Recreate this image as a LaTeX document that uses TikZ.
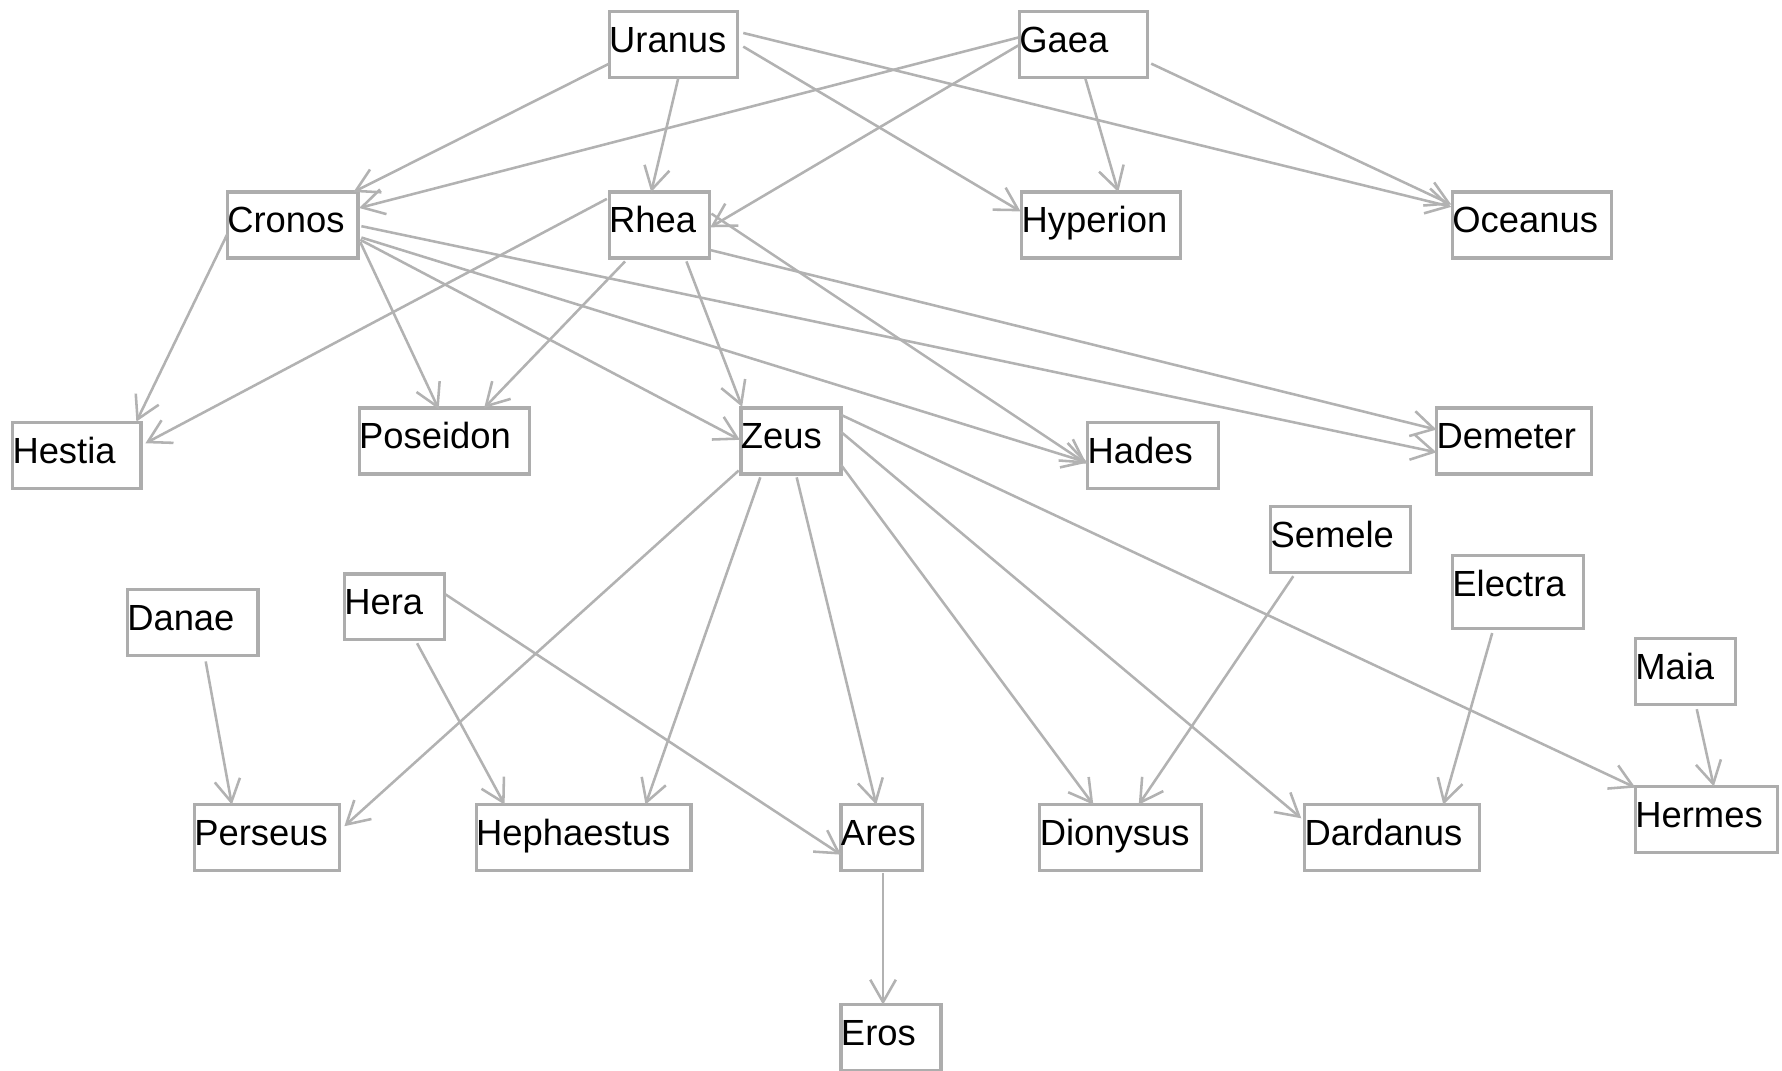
\documentclass[tikz,border=0pt]{standalone}
\usepackage{fontspec}
\setmainfont{Liberation Sans}
\usetikzlibrary{arrows.meta}
\definecolor{edgegray}{HTML}{B2B2B2}
\definecolor{boxgray}{HTML}{ADADAD}
% one drawing unit
\newlength\pu
\setlength\pu{0.35566pt}
% connector between two named boxes, end points given as offsets from each box's top-left corner
\newcommand\lnk[6]{\draw[edge] ([shift={(#2,#3)}]#1.north west) -- ([shift={(#5,#6)}]#4.north west);}
\begin{document}
\begin{tikzpicture}[x=0.0125cm, y=-0.0125cm,
  box/.style={draw=boxgray, line width=1pt, anchor=north west, inner sep=0pt, outer sep=0pt,
    text height=12.8pt, text depth=7.83pt, align=left,
    font=\fontsize{11.38pt}{13pt}\selectfont},
  edge/.style={draw=edgegray, line width=0.8pt, -{Straight Barb[length=7pt, width=8pt]}}]
\useasboundingbox (0,0) rectangle (1568,942);

% generation 1
\node[box, text width=113\pu] (uranus) at (536,10) {Uranus};
\node[box, text width=113\pu] (gaea) at (897,10) {Gaea};
% generation 2
\node[box, text width=115\pu] (cronos) at (200,169) {Cronos};
\node[box, text width=88\pu] (rhea) at (536,169) {Rhea};
\node[box, text width=140\pu] (hyperion) at (899,169) {Hyperion};
\node[box, text width=140\pu] (oceanus) at (1278,169) {Oceanus};
% generation 3
\node[box, text width=113\pu] (hestia) at (11,372) {Hestia};
\node[box, text width=150\pu] (poseidon) at (316,359) {Poseidon};
\node[box, text width=88\pu] (zeus) at (652,359) {Zeus};
\node[box, text width=115\pu] (hades) at (957,372) {Hades};
\node[box, text width=136\pu] (demeter) at (1264,359) {Demeter};
% consorts
\node[box, text width=123\pu] (semele) at (1118,446) {Semele};
\node[box, text width=115\pu, text depth=9.96pt] (electra) at (1278,489) {Electra};
\node[box, text width=88\pu] (maia) at (1439,562) {Maia};
\node[box, text width=115\pu] (danae) at (112,519) {Danae};
\node[box, text width=88\pu] (hera) at (303,505) {Hera};
% children of Zeus
\node[box, text width=128\pu] (perseus) at (171,708) {Perseus};
\node[box, text width=189\pu] (hephaestus) at (419,708) {Hephaestus};
\node[box, text width=72\pu] (ares) at (740,708) {Ares};
\node[box, text width=142\pu] (dionysus) at (915,708) {Dionysus};
\node[box, text width=154\pu] (dardanus) at (1148,708) {Dardanus};
\node[box, text width=125\pu] (hermes) at (1439,692) {Hermes};
\node[box, text width=88\pu] (eros) at (740,884) {Eros};

% parent -> child links
\lnk{uranus}{0}{46}{cronos}{111}{0}
\lnk{uranus}{61}{58}{rhea}{37}{0}
\lnk{uranus}{118}{31}{hyperion}{-1}{17}
\lnk{uranus}{118}{19}{oceanus}{-1}{13}
\lnk{gaea}{-1}{23}{cronos}{116}{14}
\lnk{gaea}{-1}{30}{rhea}{89}{31}
\lnk{gaea}{58}{59}{hyperion}{85}{0}
\lnk{gaea}{116}{46}{oceanus}{-1}{11}
\lnk{cronos}{0}{37}{hestia}{109}{-1}
\lnk{rhea}{-2}{6}{hestia}{117}{18}
\lnk{cronos}{117}{44}{poseidon}{70}{1}
\lnk{rhea}{14}{61}{poseidon}{110}{0}
\lnk{cronos}{117}{42}{zeus}{-1}{28}
\lnk{rhea}{68}{61}{zeus}{1}{-1}
\lnk{cronos}{118}{40}{hades}{0}{35}
\lnk{rhea}{90}{19}{hades}{-1}{36}
\lnk{cronos}{118}{30}{demeter}{0}{39}
\lnk{rhea}{89}{51}{demeter}{0}{19}
\lnk{zeus}{-2}{55}{perseus}{132}{19}
\lnk{zeus}{17}{61}{hephaestus}{149}{0}
\lnk{zeus}{49}{61}{ares}{31}{0}
\lnk{zeus}{88}{50}{dionysus}{47}{0}
\lnk{zeus}{88}{21}{dardanus}{-3}{12}
\lnk{zeus}{88}{6}{hermes}{0}{1}
\lnk{danae}{69}{63}{perseus}{33}{0}
\lnk{hera}{64}{61}{hephaestus}{25}{0}
\lnk{hera}{89}{18}{ares}{0}{44}
\lnk{semele}{20}{61}{dionysus}{87}{0}
\lnk{electra}{35}{68}{dardanus}{122}{0}
\lnk{maia}{54}{62}{hermes}{69}{0}
\lnk{ares}{37}{60}{eros}{37}{0}
\end{tikzpicture}
\end{document}
